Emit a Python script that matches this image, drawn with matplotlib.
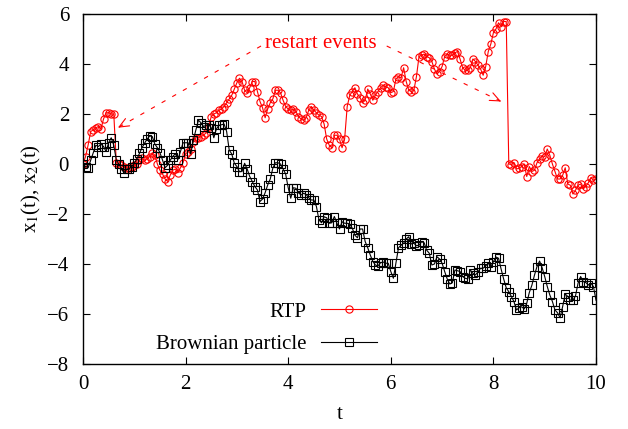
import numpy as np
import matplotlib
matplotlib.use("Agg")
import matplotlib.pyplot as plt

plt.rcParams['font.family'] = ['Liberation Serif', 'DejaVu Serif']
plt.rcParams['mathtext.fontset'] = 'stix'

# time grid (dt = 0.05)
t = [round(i * 0.05, 2) for i in range(201)]

rtp = [
    0.0, 0.3, 0.76, 1.3, 1.36, 1.45, 1.5, 1.4, 1.8, 2.05,
    2.05, 2.0, 2.0, 0.05, 0.0, -0.05, -0.1, -0.15, -0.15, -0.1,
    -0.05, 0.0, 0.16, 0.23, 0.15, 0.22, 0.3, 0.45, 0.35, 0.0,
    -0.25, -0.4, -0.6, -0.7, -0.45, -0.25, -0.2, -0.35, -0.15, 0.05,
    0.4, 0.5, 0.6, 0.9, 1.05, 1.05, 1.1, 1.15, 1.25, 1.5,
    1.9, 2.0, 2.05, 2.15, 2.2, 2.3, 2.45, 2.6, 2.75, 3.0,
    3.25, 3.43, 3.3, 2.95, 2.85, 3.05, 3.3, 3.3, 2.9, 2.5,
    2.25, 1.85, 2.2, 2.45, 2.6, 2.95, 2.95, 2.85, 2.55, 2.3,
    2.2, 2.15, 2.2, 2.1, 1.9, 1.8, 1.75, 1.85, 2.15, 2.3,
    2.15, 2.05, 1.95, 1.9, 1.6, 1.0, 0.75, 0.65, 1.15, 1.15,
    1.0, 0.65, 1.0, 2.3, 2.75, 2.9, 3.05, 2.8, 2.65, 2.45,
    2.55, 3.0, 2.8, 2.55, 2.75, 2.9, 3.05, 3.15, 3.1, 3.05,
    2.85, 2.9, 3.4, 3.5, 3.45, 3.85, 3.3, 2.95, 2.9, 2.95,
    3.5, 4.3, 4.35, 4.4, 4.3, 4.25, 4.1, 3.8, 3.6, 3.7,
    3.9, 4.3, 4.4, 4.35, 4.35, 4.45, 4.5, 4.2, 3.85, 3.75,
    3.75, 3.85, 4.2, 4.1, 3.95, 3.8, 3.55, 3.9, 4.5, 4.8,
    5.25, 5.4, 5.65, 5.5, 5.7, 5.7, 0.0, -0.02, 0.05, -0.2,
    -0.17, -0.1, 0.0, -0.5, -0.1, -0.3, -0.25, 0.05, 0.2, 0.33,
    0.3, 0.6, 0.35, 0.0, -0.3, -0.6, -0.6, -0.45, -0.15, -0.8,
    -0.85, -1.2, -1.05, -0.85, -0.8, -1.0, -0.9, -0.75, -0.55, -0.65,
    -0.6,
]

brownian = [
    0.0, -0.1, -0.15, 0.15, 0.45, 0.75, 0.7, 0.8, 0.7, 0.5,
    0.85, 1.05, 0.75, 0.15, 0.0, -0.2, -0.35, -0.2, -0.2, -0.1,
    0.03, 0.2, 0.43, 0.65, 0.83, 1.0, 1.12, 1.1, 0.8, 0.65,
    0.45, 0.16, -0.15, -0.05, 0.15, 0.3, 0.42, 0.18, 0.5, 0.85,
    0.85, 0.85, 0.4, 0.95, 1.36, 1.75, 1.65, 1.5, 1.55, 1.58,
    1.45, 1.05, 1.4, 1.55, 1.57, 1.6, 1.3, 0.56, 0.4, 0.03,
    -0.1, -0.31, -0.3, 0.03, -0.2, -0.5, -0.7, -0.9, -1.04, -1.5,
    -1.4, -1.15, -0.84, -0.6, -0.17, 0.05, 0.05, 0.0, -0.2, -0.4,
    -0.95, -1.37, -0.95, -0.97, -1.15, -1.24, -1.17, -1.22, -1.35, -1.44,
    -1.44, -1.7, -2.24, -2.35, -2.11, -2.15, -2.37, -2.35, -2.1, -2.37,
    -2.6, -2.31, -2.37, -2.37, -2.4, -2.57, -2.85, -2.95, -2.6, -2.6,
    -3.1, -3.35, -3.64, -3.9, -4.04, -4.08, -3.95, -3.92, -3.97, -3.97,
    -4.3, -4.57, -3.95, -3.35, -3.25, -3.17, -3.0, -2.91, -3.2, -3.17,
    -3.27, -3.25, -3.11, -3.15, -3.45, -3.57, -4.04, -4.0, -3.71, -3.8,
    -3.97, -4.3, -4.6, -4.8, -4.75, -4.24, -4.27, -4.3, -4.5, -4.57,
    -4.6, -4.24, -4.37, -4.44, -4.31, -4.17, -4.17, -4.07, -3.97, -4.1,
    -3.91, -3.72, -3.77, -4.2, -4.6, -4.95, -5.11, -5.3, -5.5, -5.84,
    -5.75, -5.71, -5.8, -5.57, -5.14, -4.85, -4.45, -4.1, -3.88, -4.15,
    -4.5, -4.9, -5.24, -5.5, -5.84, -5.95, -6.15, -5.7, -5.2, -5.3,
    -5.45, -5.45, -5.28, -4.77, -4.5, -4.7, -4.74, -4.84, -4.77, -4.9,
    -5.45,
]

x_ticks = [0, 2, 4, 6, 8, 10]
y_ticks = [-8, -6, -4, -2, 0, 2, 4, 6]
labels = ["RTP", "Brownian particle"]
annotation = "restart events"

FS = 15
W, H = 628, 429
fig = plt.figure(figsize=(W / 100, H / 100), dpi=100)
ax = fig.add_axes([83 / W, 1 - 364 / H, 513 / W, 350 / H])

red = '#ff0000'
ax.plot(t, rtp, color=red, lw=0.8, marker='o', ms=5.2, mfc='none',
        mec=red, mew=0.8, label=labels[0])
ax.plot(t, brownian, color='black', lw=0.8, marker='s', ms=5.2, mfc='none',
        mec='black', mew=0.8, label=labels[1])

ax.set_xlim(0, 10)
ax.set_ylim(-8, 6)
ax.set_xticks(x_ticks)
ax.set_yticks(y_ticks)
ax.tick_params(direction='in', length=5, width=0.8, top=True, right=True,
               labelsize=FS)
ax.tick_params(axis='y', pad=10)
ax.tick_params(axis='x', pad=8)
for s in ax.spines.values():
    s.set_linewidth(1.0)

ax.set_xlabel('t', fontsize=FS, labelpad=8)
ax.set_ylabel(r'x$_1$(t), x$_2$(t)', fontsize=FS, labelpad=3)

# annotation text and dashed arrows
ax.text(4.64, 4.84, annotation, color=red, fontsize=FS, ha='center', va='center')
arrows = [((3.47, 4.72), (0.68, 1.45)), ((5.92, 4.72), (8.15, 2.5))]
for (x0, y0), (x1, y1) in arrows:
    ax.plot([x0, x1], [y0, y1], color=red, lw=0.8, linestyle=(0, (4, 7)))
    fx = x1 - (x1 - x0) * 0.02
    fy = y1 - (y1 - y0) * 0.02
    ax.annotate('', xy=(x1, y1), xytext=(fx, fy),
                arrowprops=dict(arrowstyle='->,head_length=0.7,head_width=0.3',
                                color=red, lw=0.8, shrinkA=0, shrinkB=0))

leg = ax.legend(loc='center right', bbox_to_anchor=(377 / W, 1 - 328 / H),
                bbox_transform=fig.transFigure, frameon=False, markerfirst=False,
                fontsize=FS, handlelength=2.7, handletextpad=0.67,
                labelspacing=0.62, borderpad=0, borderaxespad=0)

fig.savefig('out.png', dpi=100)
